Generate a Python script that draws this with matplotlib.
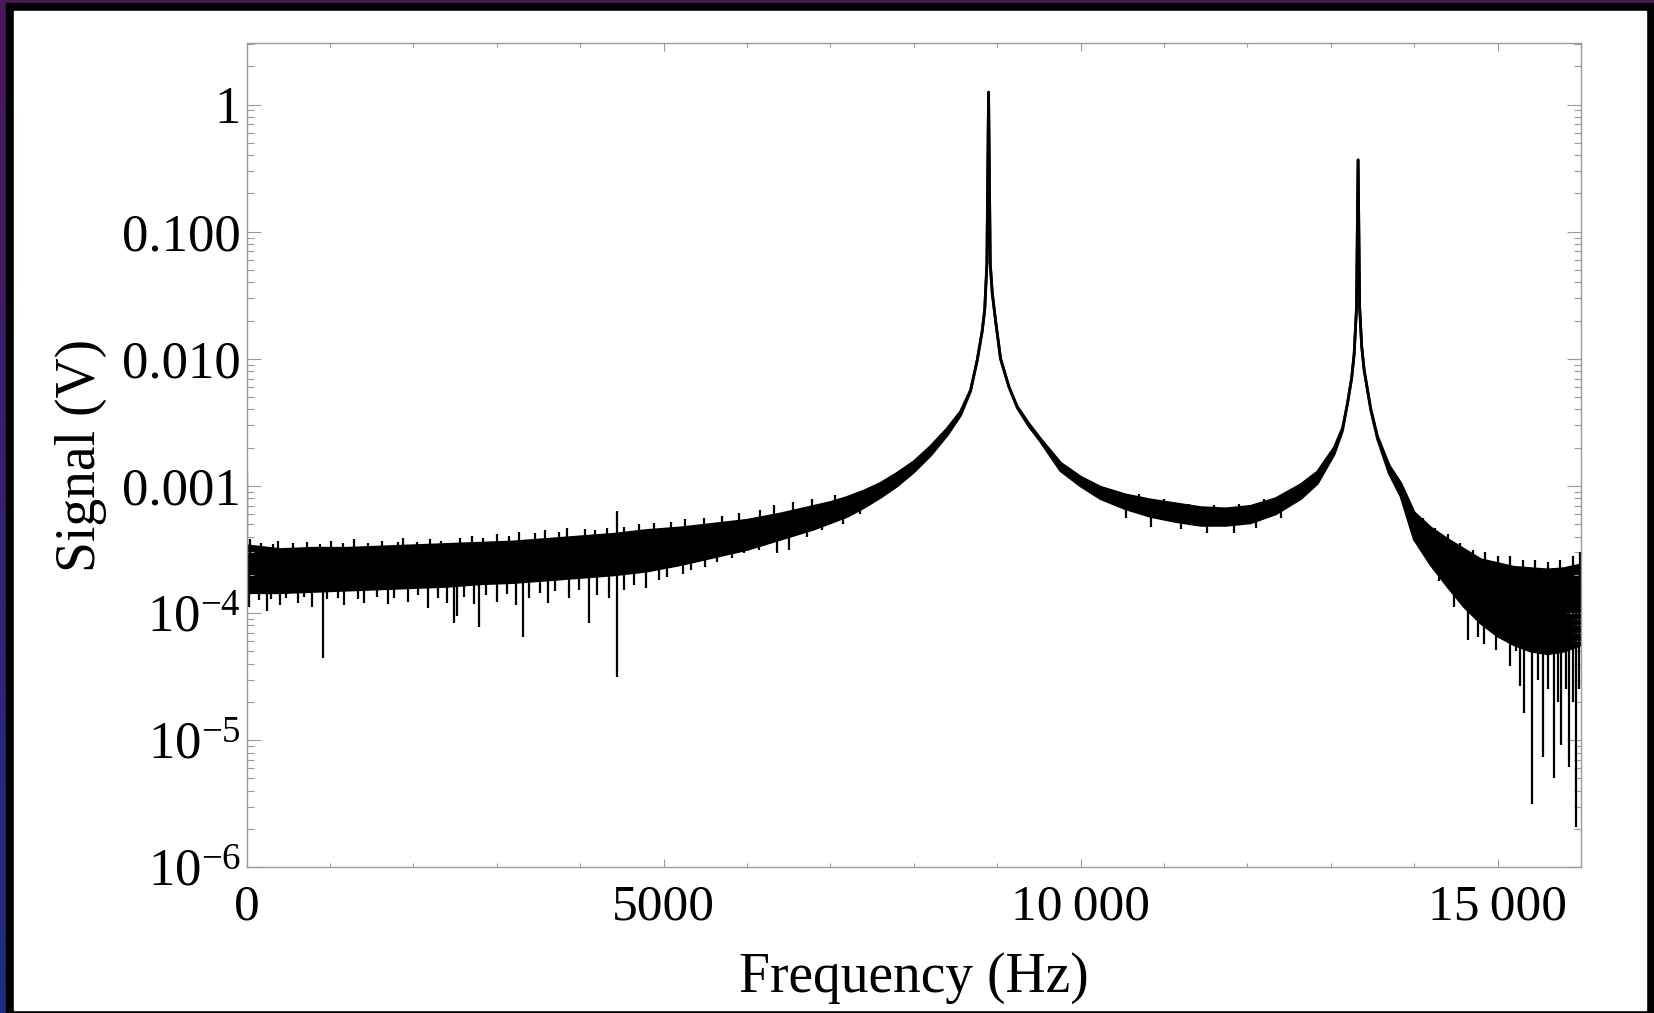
import numpy as np
import matplotlib
matplotlib.use("Agg")
import matplotlib.pyplot as plt
from matplotlib.patches import Rectangle
from matplotlib.colors import LinearSegmentedColormap
from matplotlib.ticker import LogLocator, MultipleLocator, NullFormatter

plt.rcParams['font.family'] = ['Liberation Serif', 'DejaVu Serif']
plt.rcParams['mathtext.fontset'] = 'custom'
plt.rcParams['mathtext.rm'] = 'Liberation Serif'
plt.rcParams['mathtext.it'] = 'Liberation Serif:italic'
plt.rcParams['mathtext.bf'] = 'Liberation Serif:bold'

# ---- spectrum, all levels given as log10(signal / V)
# frequency nodes with the upper / lower edge of the noise band
freq_hz = [0, 400, 800, 1200, 1600, 2000, 2400, 2800, 3200, 3600, 4000, 4400,
           4800, 5200, 5600, 6000, 6400, 6800, 7000, 7200, 7400, 7600, 7800,
           8000, 8200, 8400, 8560, 8680, 8760, 8820, 8850, 8876, 8896, 8916,
           8940, 8980, 9040, 9140, 9240, 9380, 9520, 9760, 10000, 10240,
           10540, 10840, 11140, 11440, 11740, 12040, 12340, 12640, 12840,
           13040, 13140, 13200, 13250, 13280, 13308, 13327, 13346, 13370,
           13400, 13480, 13560, 13700, 13840, 14000, 14200, 14400, 14600,
           14800, 15000, 15200, 15400, 15600, 15800, 16000]

log_upper = [-3.47, -3.50, -3.49, -3.49, -3.48, -3.47, -3.46, -3.45, -3.44, -3.42,
             -3.40, -3.38, -3.35, -3.33, -3.30, -3.27, -3.22, -3.16, -3.13, -3.09,
             -3.04, -2.98, -2.90, -2.81, -2.69, -2.55, -2.415, -2.245, -2.01,
             -1.78, -1.61, -1.25, 0.098, -1.25, -1.48, -1.70, -2.00, -2.22,
             -2.375, -2.51, -2.63, -2.82, -2.93, -3.01, -3.07, -3.11, -3.14,
             -3.17, -3.18, -3.16, -3.10, -2.99, -2.89, -2.70, -2.545, -2.35,
             -2.15, -1.96, -1.60, -0.435, -1.60, -1.90, -2.09, -2.395, -2.61,
             -2.84, -2.98, -3.21, -3.33, -3.42, -3.50, -3.58, -3.61, -3.64,
             -3.65, -3.66, -3.65, -3.62]

log_lower = [-3.84, -3.84, -3.83, -3.82, -3.81, -3.80, -3.79, -3.77, -3.76, -3.74,
             -3.72, -3.70, -3.67, -3.62, -3.56, -3.50, -3.42, -3.34, -3.29, -3.24,
             -3.17, -3.09, -3.00, -2.89, -2.76, -2.60, -2.445, -2.255, -2.01,
             -1.78, -1.61, -1.25, 0.098, -1.25, -1.48, -1.70, -2.00, -2.22,
             -2.385, -2.53, -2.65, -2.88, -3.00, -3.10, -3.18, -3.24, -3.28,
             -3.31, -3.31, -3.29, -3.22, -3.10, -2.98, -2.75, -2.565, -2.35,
             -2.15, -1.96, -1.60, -0.435, -1.60, -1.90, -2.09, -2.405, -2.63,
             -2.90, -3.08, -3.42, -3.62, -3.79, -3.95, -4.08, -4.18, -4.25,
             -4.30, -4.32, -4.30, -4.25]

# isolated downward spikes below the band
dip_freq_hz = [30, 150, 240, 290, 400, 470, 610, 690, 780, 912, 960, 1090, 1170,
               1330, 1410, 1560, 1690, 1770, 1940, 2050, 2170, 2290, 2400, 2488,
               2520, 2610, 2720, 2788, 2870, 3000, 3120, 3230, 3316, 3390, 3520,
               3610, 3700, 3870, 3980, 4108, 4200, 4344, 4444, 4530, 4640, 4790,
               4950, 5040, 5230, 5330, 5500, 5640, 5820, 5960, 6140, 6360, 6500,
               6720, 6900, 7150, 7350, 10540, 10840, 11200, 11520, 11840, 12100,
               12400, 14300, 14480, 14560, 14640, 14700, 14760, 14840, 14900,
               14980, 15060, 15150, 15220, 15270, 15320, 15410, 15480, 15540,
               15600, 15680, 15720, 15760, 15820, 15860, 15900, 15940, 15980]
dip_log = [-3.95, -3.90, -3.98, -3.89, -3.94, -3.88, -3.92, -3.87, -3.95, -4.35,
           -3.89, -3.88, -3.94, -3.89, -3.92, -3.87, -3.93, -3.88, -3.91, -3.86,
           -3.96, -3.88, -3.92, -4.08, -4.02, -3.87, -3.93, -4.11, -3.86, -3.91,
           -3.85, -3.94, -4.19, -3.88, -3.84, -3.92, -3.83, -3.88, -3.82, -4.08,
           -3.86, -3.88, -4.50, -3.82, -3.78, -3.80, -3.74, -3.72, -3.69, -3.66,
           -3.64, -3.60, -3.57, -3.53, -3.50, -3.53, -3.50, -3.40, -3.35, -3.30,
           -3.22, -3.25, -3.32, -3.34, -3.37, -3.37, -3.33, -3.25, -3.75, -3.95,
           -3.90, -4.21, -4.00, -4.19, -4.24, -4.10, -4.29, -4.20, -4.42, -4.30,
           -4.57, -4.79, -5.50, -4.53, -5.13, -4.60, -5.30, -4.70, -5.04, -4.60,
           -5.21, -4.70, -5.68, -4.60]

# isolated upward spikes above the band (the first one is the DC bin)
rise_freq_hz = [0, 45, 170, 310, 380, 560, 720, 880, 1010, 1160, 1290, 1450, 1620,
                1810, 1880, 2040, 2200, 2330, 2560, 2700, 2830, 3000, 3150, 3270,
                3460, 3580, 3740, 3840, 4060, 4180, 4320, 4444, 4520, 4700, 4880,
                5090, 5260, 5480, 5700, 5900, 6150, 6320, 6550, 6780, 7050, 10700,
                11000, 11300, 11600, 11900, 12200, 13950, 14100, 14250, 14400,
                14550, 14700, 14850, 15000, 15150, 15300, 15450, 15600, 15750,
                15900, 15990]
rise_log = [-2.90, -3.42, -3.45, -3.46, -3.43, -3.45, -3.44, -3.46, -3.43, -3.45,
            -3.42, -3.45, -3.43, -3.44, -3.41, -3.44, -3.42, -3.43, -3.41, -3.39,
            -3.41, -3.38, -3.39, -3.36, -3.37, -3.35, -3.36, -3.33, -3.34, -3.35,
            -3.33, -3.20, -3.32, -3.30, -3.29, -3.28, -3.26, -3.25, -3.24, -3.21,
            -3.19, -3.15, -3.13, -3.10, -3.07, -3.06, -3.10, -3.14, -3.15, -3.14,
            -3.10, -3.15, -3.25, -3.33, -3.38, -3.45, -3.50, -3.52, -3.55, -3.55,
            -3.58, -3.58, -3.60, -3.58, -3.55, -3.52]

x_ticks = [0, 5000, 10000, 15000]
x_tick_labels = ['0', '5000', '10\u2009000', '15\u2009000']
y_ticks = [1e-6, 1e-5, 1e-4, 1e-3, 1e-2, 1e-1, 1]
y_tick_labels = ['$10^{-6}$', '$10^{-5}$', '$10^{-4}$', '0.001', '0.010', '0.100', '1']

W, H = 1654, 1013
fig = plt.figure(figsize=(W / 100, H / 100), dpi=100, facecolor='black')

# dark frame around the white panel
bg = fig.add_axes([0, 0, 1, 1])
bg.set_xlim(0, W)
bg.set_ylim(H, 0)
bg.axis('off')
edge_cmap = LinearSegmentedColormap.from_list('edge', ['#4c165c', '#1f2c84'])
bg.imshow(np.linspace(0, 1, 256)[:, None], extent=[0, W, H, 0], cmap=edge_cmap,
          aspect='auto', zorder=0)
bg.add_patch(Rectangle((6, 3), W - 6, H - 3, color='black', zorder=1))
bg.add_patch(Rectangle((14, 11), 1646 - 14, 1010 - 11, color='white', zorder=2))

ax = fig.add_axes([246.7 / W, 1 - 867.3 / H, (1581 - 246.7) / W, (867.3 - 42.7) / H])
ax.set_facecolor('none')
ax.set_yscale('log')
ax.set_xlim(0, 16000)
ax.set_ylim(1e-6, 3.07)

f = np.array(freq_hz, dtype=float)
lu = np.array(log_upper)
ll = np.array(log_lower)
up = 10.0 ** lu
lo = 10.0 ** ll
ax.fill_between(f, lo, up, color='black', lw=0)
ax.plot(f, up, color='black', lw=2.0)
ax.plot(f, lo, color='black', lw=2.0)

# spikes start inside the band at the same frequency
band_mid = 0.5 * (lu + ll)
dip_top = 10.0 ** np.interp(dip_freq_hz, f, band_mid)
ax.vlines(dip_freq_hz, 10.0 ** np.array(dip_log), dip_top, color='black', lw=1.6)
rise_base = 10.0 ** np.interp(rise_freq_hz, f, band_mid)
ax.vlines(rise_freq_hz, rise_base, 10.0 ** np.array(rise_log), color='black', lw=1.6)

frame_grey = '#9a9a9a'
for s in ax.spines.values():
    s.set_color(frame_grey)
    s.set_linewidth(1.0)

ax.set_xticks(x_ticks, x_tick_labels)
ax.xaxis.set_minor_locator(MultipleLocator(1000))
ax.set_yticks(y_ticks, y_tick_labels)
ax.yaxis.set_minor_locator(LogLocator(base=10, subs=np.arange(2, 10), numticks=30))
ax.yaxis.set_minor_formatter(NullFormatter())

ax.tick_params(axis='both', which='both', direction='in', top=True, right=True,
               color=frame_grey, width=0.8)
ax.tick_params(axis='y', which='major', length=10, labelsize=38, pad=4)
ax.tick_params(axis='y', which='minor', length=5)
ax.tick_params(axis='x', which='major', length=6, labelsize=37, pad=12)
ax.tick_params(axis='x', which='minor', length=3)

ax.set_xlabel('Frequency (Hz)', fontsize=40)
ax.set_ylabel('Signal (V)', fontsize=40)
ax.xaxis.set_label_coords(0.5, -0.103)
ax.yaxis.set_label_coords(-0.1045, 0.5)

fig.savefig('out.png', dpi=100, facecolor=fig.get_facecolor())
